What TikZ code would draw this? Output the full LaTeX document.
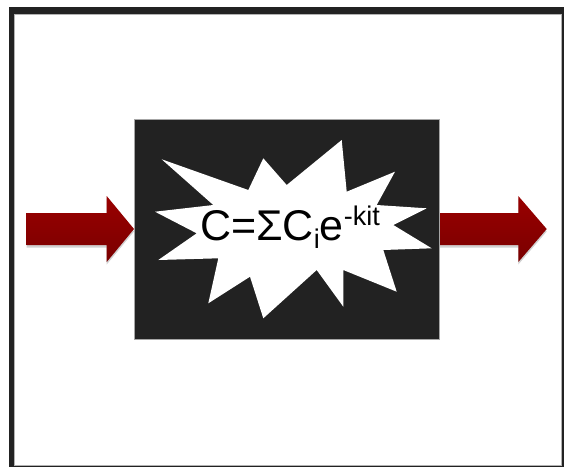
\documentclass[tikz,border=0pt]{standalone}
\usepackage{fontspec}
\setmainfont{Liberation Sans}
\usetikzlibrary{shadows}
\definecolor{framedark}{HTML}{222222}
\definecolor{arrowred}{HTML}{8E0000}
\definecolor{arrowdark}{HTML}{7A0000}
\tikzset{
  px/.style={x=1pt,y=-1pt},
  bigarrow/.style={top color=arrowred!90!red, bottom color=arrowdark, draw=none,
    drop shadow={shadow xshift=0pt, shadow yshift=-2.5pt, opacity=0.18, fill=black}},
}
\begin{document}
\begin{tikzpicture}[px]
\useasboundingbox (0,0) rectangle (564,467);
% frame
\fill[framedark] (9,7) rectangle (564,467);
\fill[white, draw=gray!60, line width=0.8pt] (14.5,14.5) rectangle (561.5,465);
% arrows
\coordinate (la) at (26.7,229);
\coordinate (ra) at (438,229);
\path[bigarrow] (la) ++(0,-16) -- ++(80,0) -- ++(0,-17) -- ++(27.3,33) -- ++(-27.3,33) -- ++(0,-17) -- ++(-80,0) -- cycle;
\path[bigarrow] (ra) ++(0,-16) -- ++(80.3,0) -- ++(0,-17) -- ++(28.4,33) -- ++(-28.4,33) -- ++(0,-17) -- ++(-80.3,0) -- cycle;
% box
\node[fill=framedark, draw=gray!70, line width=0.6pt, minimum width=305pt, minimum height=220pt, inner sep=0pt, anchor=north west] (box) at (134,119) {};
% starburst
\fill[white] (161.7,159.3) -- (248.3,190) -- (263.3,158.3) -- (286.7,185) -- (341.7,140) -- (346.7,191.7)
  -- (395,171.7) -- (376.7,205) -- (426.7,208.3) -- (393.3,225) -- (431.7,248.3) -- (383.3,250)
  -- (396.7,291.7) -- (343.3,270) -- (343.3,306.7) -- (316.7,270) -- (263.3,318.3) -- (250,276.7)
  -- (208.3,303.3) -- (218.3,258.3) -- (158.3,260) -- (196.7,233.3) -- (155,211.7) -- (213.3,205) -- cycle;
% formula
\node[anchor=base, inner sep=0pt, font=\fontsize{43}{43}\selectfont] (formula) at (290,240) {C=ΣC\raisebox{-8pt}{\fontsize{27}{27}\selectfont i}e\raisebox{15pt}{\fontsize{27}{27}\selectfont -kit}};
\end{tikzpicture}
\end{document}
